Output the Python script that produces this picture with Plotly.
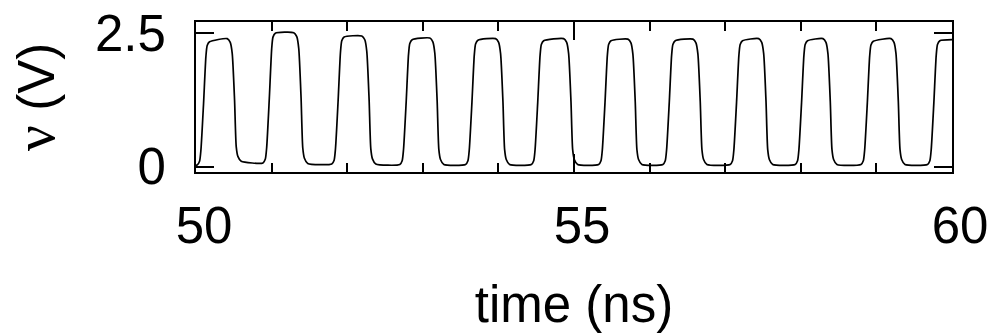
import plotly.graph_objects as go

# Clock-like output waveform, 50-60 ns
rise_times = [50.10, 50.97, 51.88, 52.78, 53.65, 54.52, 55.41, 56.26, 57.15, 58.01, 58.88, 59.76]
fall_times = [50.51, 51.39, 52.29, 53.19, 54.06, 54.96, 55.81, 56.67, 57.54, 58.39, 59.29]
high_start = [2.33, 2.49, 2.42, 2.37, 2.36, 2.35, 2.35, 2.35, 2.35, 2.35, 2.34, 2.35]
high_end = [2.39, 2.50, 2.44, 2.40, 2.39, 2.39, 2.38, 2.38, 2.39, 2.39, 2.39, 2.37]
low_start = [0.10, 0.06, 0.05, 0.04, 0.04, 0.04, 0.04, 0.04, 0.04, 0.04, 0.04]
low_end = [0.07, 0.05, 0.04, 0.04, 0.04, 0.04, 0.04, 0.04, 0.04, 0.04, 0.04]
initial_low = 0.03
t_start, t_end = 50.0, 60.0

# Edge shapes: (time offset from the 50 % crossing in ns, fraction of the swing)
rise_profile = [(-0.084, 0.0), (-0.053, 0.03), (-0.035, 0.12), (0.0, 0.5),
                (0.031, 0.88), (0.048, 0.97), (0.079, 1.0)]
fall_profile = [(-0.097, 1.0), (-0.057, 0.97), (-0.031, 0.88), (0.0, 0.5),
                (0.022, 0.12), (0.044, 0.04), (0.088, 0.0)]

x_ticks = [50, 55, 60]
y_ticks = [0, 2.5]
y_tick_text = ["0", "2.5"]

t_pts = [t_start]
v_pts = [initial_low]
for k, tr in enumerate(rise_times):
    lo = low_end[k - 1] if k > 0 else initial_low
    for dt, f in rise_profile:
        t_pts.append(tr + dt)
        v_pts.append(lo + f * (high_start[k] - lo))
    if k < len(fall_times):
        tf = fall_times[k]
        lo_next = low_start[k]
        for dt, f in fall_profile:
            t_pts.append(tf + dt)
            v_pts.append(lo_next + f * (high_end[k] - lo_next))
    else:
        t_pts.append(t_end)
        v_pts.append(high_end[k])

FONT = "Liberation Sans, Arial, sans-serif"

fig = go.Figure()
fig.add_trace(go.Scatter(
    x=t_pts, y=v_pts, mode="lines",
    line=dict(color="black", width=1.7, shape="spline", smoothing=0.6),
    hoverinfo="skip", showlegend=False,
))

fig.update_layout(
    width=994, height=334,
    margin=dict(l=196, r=42, t=22, b=162),
    paper_bgcolor="white", plot_bgcolor="white",
    font=dict(family=FONT, size=51, color="black"),
)

fig.update_xaxes(
    range=[50, 60], tickvals=x_ticks, ticktext=[str(v) for v in x_ticks],
    ticks="inside", ticklen=18, tickwidth=1.5, tickcolor="black",
    minor=dict(dtick=1, tick0=50, ticks="inside", ticklen=9, tickwidth=1.5, tickcolor="black"),
    showline=True, linecolor="black", linewidth=2, mirror="allticks",
    showgrid=False, zeroline=False,
    tickfont=dict(family=FONT, size=51),
    ticklabelstandoff=8, ticklabelshift=8,
    title=dict(text="time (ns)", font=dict(family=FONT, size=51), standoff=33),
    automargin=False,
)
fig.update_yaxes(
    range=[-0.1, 2.7], tickvals=y_ticks, ticktext=y_tick_text,
    ticks="inside", ticklen=18, tickwidth=1.5, tickcolor="black",
    showline=True, linecolor="black", linewidth=2, mirror="allticks",
    showgrid=False, zeroline=False,
    tickfont=dict(family=FONT, size=51),
    ticklabelstandoff=18,
    title=dict(
        text="<span style=\"font-family:'Liberation Serif', serif; font-size:58px\">ν</span> (V)",
        font=dict(family=FONT, size=51), standoff=24,
    ),
    automargin=False,
)

fig.write_html("out.html")
